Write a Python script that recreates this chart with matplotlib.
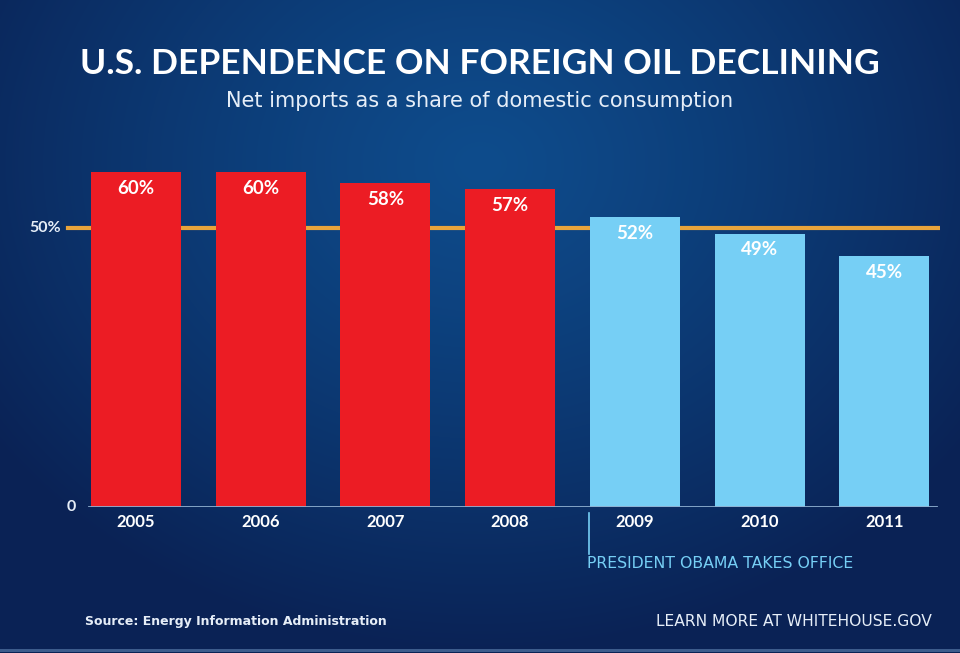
import numpy as np
import matplotlib
matplotlib.use("Agg")
from matplotlib import pyplot as plt

# data
years = ["2005", "2006", "2007", "2008", "2009", "2010", "2011"]
shares = [60, 60, 58, 57, 52, 49, 45]
bar_colors = ["#ec1c24"] * 4 + ["#76cff5"] * 3
ref_level = 50

plt.rcParams['font.family'] = ['Lato', 'DejaVu Sans']

W, H = 960, 653
fig = plt.figure(figsize=(W / 100, H / 100), dpi=100)

# background: dark navy with a lighter glow near the top centre
bg = fig.add_axes([0, 0, 1, 1], zorder=-10)
yy, xx = np.mgrid[0:H, 0:W]
d = np.sqrt(((xx - W * 0.5) / (W * 0.62)) ** 2 + ((yy - H * 0.25) / (H * 0.75)) ** 2)
t = np.clip(d, 0, 1) ** 1.2
c_in = np.array([0x0e, 0x4c, 0x8c]) / 255
c_out = np.array([0x0a, 0x22, 0x55]) / 255
img = c_in[None, None, :] * (1 - t[..., None]) + c_out[None, None, :] * t[..., None]
img[H - 4:H - 1] = np.array([0x3d, 0x5c, 0x8c]) / 255
bg.imshow(img, aspect="auto", extent=[0, W, H, 0])
bg.set_xlim(0, W)
bg.set_ylim(H, 0)
bg.axis("off")

# main chart axes (pixel placement)
px_per = 5.58
ymax = 66
ax_left, ax_right, ax_bottom = 47, 940, 146
ax = fig.add_axes([ax_left / W, ax_bottom / H, (ax_right - ax_left) / W, ymax * px_per / H])
ax.patch.set_alpha(0)

x = np.arange(len(years))
step = 124.7
ax.set_xlim(-(136 - ax_left) / step, (ax_right - 136) / step)
ax.set_ylim(0, ymax)
span = ax_right - ax_left

ax.axhline(ref_level, xmin=(68 - ax_left) / span, xmax=1,
           color="#e9a43b", lw=3, zorder=1)
ax.axhline(0, xmin=(89 - ax_left) / span, xmax=(936 - ax_left) / span,
           color="#8fb0d0", lw=2, zorder=3)
bars = ax.bar(x, shares, width=90 / step, color=bar_colors, zorder=2)

for xi, v in zip(x, shares):
    ax.text(xi, v - 1.4, f"{v}%", ha="center", va="top", color="white",
            fontsize=13.5, fontweight="bold", zorder=3)

for s in ax.spines.values():
    s.set_visible(False)

ax.set_xticks(x)
ax.set_xticklabels(years, color="white", fontsize=12, fontweight="bold")
ax.tick_params(axis="x", length=0, pad=5)
ax.set_yticks([])

# y labels placed by hand to the left of the lines
ytr = ax.get_yaxis_transform()
ax.text((61 - ax_left) / span, ref_level, "50%", transform=ytr, ha="right", va="center",
        color="#e6eef8", fontsize=11.5, fontweight="bold")
ax.text((76 - ax_left) / span, 0, "0", transform=ytr, ha="right", va="center",
        color="#e6eef8", fontsize=11.5, fontweight="bold")

# Obama marker
fig.add_artist(plt.Line2D([589 / W, 589 / W], [1 - 513 / H, 1 - 554 / H],
                          color="#76cff5", lw=1.2))
fig.text(587 / W, 1 - 564 / H, "PRESIDENT OBAMA TAKES OFFICE", color="#76cff5",
         fontsize=11.3, family="DejaVu Sans", ha="left", va="center")

# titles
fig.text(0.5, 1 - 64 / H, "U.S. DEPENDENCE ON FOREIGN OIL DECLINING", color="white",
         fontsize=25.5, fontweight="bold", ha="center", va="center")
fig.text(0.5, 1 - 101 / H, "Net imports as a share of domestic consumption", color="#e6eef8",
         fontsize=15, family="DejaVu Sans", ha="center", va="center")

# footer
fig.text(85 / W, 1 - 621 / H, "Source: Energy Information Administration", color="#e6eef8",
         fontsize=9, fontweight="bold", family="DejaVu Sans", ha="left", va="center")
fig.text(932 / W, 1 - 621 / H, "LEARN MORE AT WHITEHOUSE.GOV", color="#e6eef8",
         fontsize=11.2, family="DejaVu Sans", ha="right", va="center")

fig.savefig("out.png", dpi=100)
